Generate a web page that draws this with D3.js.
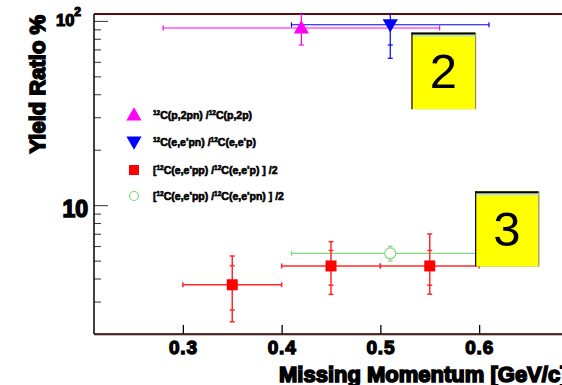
<!DOCTYPE html>
<html>
<head>
<meta charset="utf-8">
<script src="https://cdn.jsdelivr.net/npm/d3@7"></script>
<style>
  body { margin: 0; background: #fff; }
  text { font-family: "Liberation Sans", Arial, sans-serif; }
</style>
</head>
<body>
<script>
const W = 562, H = 385;
const PLOT_LEFT = 94, PLOT_TOP = 14, PLOT_BOTTOM = 334, PLOT_RIGHT = 568;

// Data (y in %, x in GeV/c).
const magentaX = [0.42];
const magentaY = [91.5];
const magentaXErr = [0.14];
const magentaYErr = [17.5];

const blueX = [0.51];
const blueY = [95.3];
const blueXErr = [0.10];
const blueYStat = [21.3];
const blueYTot = [32.6];

const redX = [0.35, 0.45, 0.55];
const redY = [3.70, 4.68, 4.68];
const redXErr = [0.05, 0.05, 0.05];
const redYStat = [1.0, 1.0, 1.0];
const redYTotLow = [1.37, 1.40, 1.39];
const redYTotHigh = [1.60, 1.66, 2.30];

const greenX = [0.51];
const greenY = [5.48];
const greenXErr = [0.10];
const greenYErr = [0.50];

const xTicks = [0.3, 0.4, 0.5, 0.6];
const yMajor = [10, 100];
const yMinor = [3, 4, 5, 6, 7, 8, 9, 20, 30, 40, 50, 60, 70, 80, 90];

const legendLabels = [
  {pre: '', a: 'C(p,2pn) /', b: 'C(p,2p)'},
  {pre: '', a: "C(e,e'pn) /", b: "C(e,e'p)"},
  {pre: '[', a: "C(e,e'pp) /", b: "C(e,e'p) ] /2"},
  {pre: '[', a: "C(e,e'pp) /", b: "C(e,e'pn) ] /2"}
];
const boxLabels = ['2', '3'];

const svg = d3.select('body').append('svg')
    .attr('width', W).attr('height', H);

const x = d3.scaleLinear().domain([0.21, 0.69]).range([PLOT_LEFT, PLOT_RIGHT]);
const y = d3.scaleLog().domain([2, 109]).range([PLOT_BOTTOM, PLOT_TOP]);

svg.append('defs').append('clipPath').attr('id', 'plotclip')
  .append('rect')
    .attr('x', PLOT_LEFT).attr('y', PLOT_TOP)
    .attr('width', PLOT_RIGHT - PLOT_LEFT).attr('height', PLOT_BOTTOM - PLOT_TOP);

// Axes.
const xAxis = svg.append('g')
    .attr('transform', `translate(0,${PLOT_BOTTOM})`)
    .call(d3.axisBottom(x).tickValues(xTicks).tickSizeInner(-9).tickSizeOuter(0)
      .tickPadding(18).tickFormat(d3.format('.1f')));
xAxis.select('.domain').remove();
xAxis.selectAll('.tick line').attr('stroke', '#000').attr('stroke-width', 1.3);
xAxis.selectAll('.tick text')
    .attr('font-size', 19).attr('font-weight', 'bold')
    .attr('stroke', '#000').attr('stroke-width', 1.3)
    .attr('letter-spacing', 0.8)
    .attr('dy', '0.1em');

const yMinorAxis = svg.append('g')
    .attr('transform', `translate(${PLOT_LEFT},0)`)
    .call(d3.axisLeft(y).tickValues(yMinor).tickSizeInner(-7).tickSizeOuter(0).tickFormat(''));
yMinorAxis.select('.domain').remove();
yMinorAxis.selectAll('.tick line').attr('stroke', '#333');

const yMajorAxis = svg.append('g')
    .attr('transform', `translate(${PLOT_LEFT},0)`)
    .call(d3.axisLeft(y).tickValues(yMajor).tickSizeInner(-14).tickSizeOuter(0).tickFormat(''));
yMajorAxis.select('.domain').remove();
yMajorAxis.selectAll('.tick line').attr('stroke', '#333');

// y tick labels: "10" and "10^2"
yMajorAxis.selectAll('.tick').each(function(d) {
  const g = d3.select(this);
  if (d === 10) {
    g.append('text').attr('x', -6).attr('y', 11)
      .attr('text-anchor', 'end').attr('fill', '#000')
      .attr('font-size', 23).attr('font-weight', 'bold')
      .attr('stroke', '#000').attr('stroke-width', 1.5)
      .text('10');
  } else {
    const t = g.append('text').attr('x', -13).attr('y', 5)
      .attr('text-anchor', 'end').attr('fill', '#000')
      .attr('font-weight', 'bold')
      .attr('stroke', '#000').attr('stroke-width', 1.2);
    t.append('tspan').attr('font-size', 16.5).text('10');
    t.append('tspan').attr('font-size', 12).attr('dy', -10).text('2');
  }
});

// Frame lines.
svg.append('line').attr('x1', PLOT_LEFT).attr('x2', W).attr('y1', PLOT_TOP).attr('y2', PLOT_TOP)
    .attr('stroke', '#5a0c0c').attr('stroke-width', 2);
svg.append('line').attr('x1', PLOT_LEFT).attr('x2', W).attr('y1', PLOT_BOTTOM + 1).attr('y2', PLOT_BOTTOM + 1)
    .attr('stroke', '#c86464').attr('stroke-width', 1);
svg.append('line').attr('x1', PLOT_LEFT).attr('x2', W).attr('y1', PLOT_BOTTOM).attr('y2', PLOT_BOTTOM)
    .attr('stroke', '#000').attr('stroke-width', 1.5);
svg.append('line').attr('x1', PLOT_LEFT).attr('x2', PLOT_LEFT).attr('y1', PLOT_TOP).attr('y2', PLOT_BOTTOM)
    .attr('stroke', '#000').attr('stroke-width', 1.5);

// Axis titles.
svg.append('text')
    .attr('transform', 'translate(45,15) rotate(-90)')
    .attr('text-anchor', 'end')
    .attr('font-size', 22).attr('font-weight', 'bold')
    .attr('stroke', '#000').attr('stroke-width', 1.6)
    .text('Yield Ratio %');
svg.append('text')
    .attr('x', 279).attr('y', 382)
    .attr('font-size', 22).attr('font-weight', 'bold')
    .attr('stroke', '#000').attr('stroke-width', 1.6)
    .text('Missing Momentum [GeV/c]');

// Data layer.
const plot = svg.append('g').attr('clip-path', 'url(#plotclip)');
const CAP = 2.5;

function errorBars(xs, ys, xErr, yLow, yHigh, color, width, inner) {
  const g = plot.append('g').attr('stroke', color).attr('stroke-width', width);
  xs.forEach((xv, i) => {
    const cx = x(xv), cy = y(ys[i]);
    const x0 = x(xv - xErr[i]), x1 = x(xv + xErr[i]);
    g.append('line').attr('x1', x0).attr('x2', x1).attr('y1', cy).attr('y2', cy);
    g.append('line').attr('x1', x0).attr('x2', x0).attr('y1', cy - CAP).attr('y2', cy + CAP);
    g.append('line').attr('x1', x1).attr('x2', x1).attr('y1', cy - CAP).attr('y2', cy + CAP);
    const y0 = y(ys[i] - yLow[i]), y1 = y(ys[i] + yHigh[i]);
    g.append('line').attr('x1', cx).attr('x2', cx).attr('y1', y0).attr('y2', y1);
    [y0, y1].forEach(yy => g.append('line')
      .attr('x1', cx - CAP).attr('x2', cx + CAP).attr('y1', yy).attr('y2', yy));
    if (inner) {
      [y(ys[i] - inner[i]), y(ys[i] + inner[i])].forEach(yy => g.append('line')
        .attr('x1', cx - CAP).attr('x2', cx + CAP).attr('y1', yy).attr('y2', yy));
    }
  });
}

errorBars(magentaX, magentaY, magentaXErr, magentaYErr, magentaYErr, '#ff00ff', 1.2, null);
errorBars(blueX, blueY, blueXErr, blueYTot, blueYTot, '#0000ff', 1.2, blueYStat);
errorBars(greenX, greenY, greenXErr, greenYErr, greenYErr, '#80d880', 1.2, null);
errorBars(redX, redY, redXErr, redYTotLow, redYTotHigh, '#ff2a2a', 1.5, redYStat);

const triUp = d3.symbol().type(d3.symbolTriangle).size(100);
const triDown = d3.symbol().type(d3.symbolTriangle).size(100);
const square = d3.symbol().type(d3.symbolSquare).size(121);

plot.selectAll('.mag').data(magentaX).enter().append('path')
    .attr('d', triUp).attr('fill', '#ff00ff')
    .attr('transform', (d, i) => `translate(${x(d)},${y(magentaY[i]) + 1})`);
plot.selectAll('.blu').data(blueX).enter().append('path')
    .attr('d', triDown).attr('fill', '#0000ff')
    .attr('transform', (d, i) => `translate(${x(d)},${y(blueY[i]) - 1}) rotate(180)`);
plot.selectAll('.red').data(redX).enter().append('path')
    .attr('d', square).attr('fill', '#ff0000')
    .attr('transform', (d, i) => `translate(${x(d)},${y(redY[i])})`);
plot.selectAll('.grn').data(greenX).enter().append('circle')
    .attr('cx', d => x(d)).attr('cy', (d, i) => y(greenY[i])).attr('r', 5.5)
    .attr('fill', '#fff').attr('stroke', '#80d880').attr('stroke-width', 1.2);

// Legend.
const legendY = [115, 142, 170, 196];
const legend = svg.append('g');
legend.append('path').attr('d', triUp).attr('fill', '#ff00ff')
    .attr('transform', `translate(134,${legendY[0] + 1})`);
legend.append('path').attr('d', triDown).attr('fill', '#0000ff')
    .attr('transform', `translate(134,${legendY[1] - 1}) rotate(180)`);
legend.append('rect').attr('x', 129).attr('y', legendY[2] - 5).attr('width', 10).attr('height', 10)
    .attr('fill', '#ff0000');
legend.append('circle').attr('cx', 134).attr('cy', legendY[3]).attr('r', 4.5)
    .attr('fill', 'none').attr('stroke', '#80d880').attr('stroke-width', 1.2);

legendLabels.forEach((l, i) => {
  const t = legend.append('text').attr('x', 153).attr('y', legendY[i] + 3.5)
      .attr('font-size', 10.5).attr('font-weight', 'bold')
      .attr('stroke', '#000').attr('stroke-width', 0.6);
  if (l.pre) t.append('tspan').text(l.pre);
  t.append('tspan').attr('font-size', 6.5).attr('dy', -4).text('12');
  t.append('tspan').attr('dy', 4).text(l.a);
  t.append('tspan').attr('font-size', 6.5).attr('dy', -4).text('12');
  t.append('tspan').attr('dy', 4).text(l.b);
});

// Pave boxes with numbers.
function pave(xv0, xv1, yv0, yv1, label) {
  const bx = x(xv0), bw = x(xv1) - x(xv0);
  const by = y(yv0), bh = y(yv1) - y(yv0);
  const g = svg.append('g');
  g.append('rect').attr('x', bx + 1).attr('y', by).attr('width', bw).attr('height', bh)
      .attr('fill', '#777');
  g.append('rect').attr('x', bx).attr('y', by).attr('width', bw).attr('height', bh)
      .attr('fill', '#ffff00');
  g.append('rect').attr('x', bx).attr('y', by + 2).attr('width', bw).attr('height', 2)
      .attr('fill', '#b4dce6');
  g.append('line').attr('x1', bx).attr('x2', bx + bw).attr('y1', by + 1).attr('y2', by + 1)
      .attr('stroke', '#000').attr('stroke-width', 2);
  g.append('line').attr('x1', bx + 0.5).attr('x2', bx + 0.5).attr('y1', by).attr('y2', by + bh)
      .attr('stroke', '#000').attr('stroke-width', 1.2);
  g.append('text').attr('x', bx + bw / 2).attr('y', by + bh / 2 + 17)
      .attr('text-anchor', 'middle').attr('font-size', 49)
      .text(label);
}
pave(0.5315, 0.596, 86.5, 33.2, boxLabels[0]);
pave(0.5960, 0.660, 11.9, 4.65, boxLabels[1]);
</script>
</body>
</html>
